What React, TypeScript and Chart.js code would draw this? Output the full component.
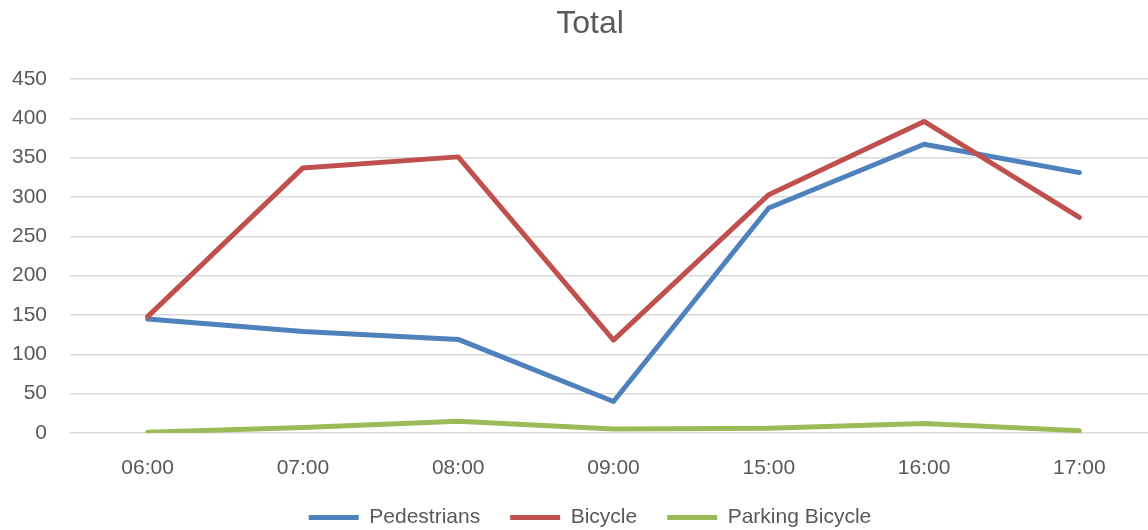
import React, { useEffect, useRef } from "react";
import { Chart, registerables } from "chart.js";

Chart.register(...registerables);

const categories = ["06:00", "07:00", "08:00", "09:00", "15:00", "16:00", "17:00"];
const pedestrians = [145, 129, 119, 40, 286, 367, 331];
const bicycle = [148, 337, 351, 118, 303, 396, 274];
const parkingBicycle = [1, 7, 15, 5, 6, 12, 3];

const FONT = "'Liberation Sans', Arial, sans-serif";
const TEXT = "#595959";

export default function App() {
  const ref = useRef<HTMLCanvasElement | null>(null);

  useEffect(() => {
    document.body.style.margin = "0";
    const ctx = ref.current!;
    const mk = (label: string, data: number[], color: string, order: number) => ({
      label,
      data,
      borderColor: color,
      backgroundColor: color,
      borderWidth: 5,
      pointRadius: 0,
      pointHoverRadius: 0,
      tension: 0,
      fill: false,
      borderCapStyle: "round" as const,
      borderJoinStyle: "round" as const,
      order,
    });
    const chart = new Chart(ctx, {
      type: "line",
      data: {
        labels: categories,
        datasets: [
          mk("Pedestrians", pedestrians, "#4F81BD", 3),
          mk("Bicycle", bicycle, "#C0504D", 2),
          mk("Parking Bicycle", parkingBicycle, "#9BBB59", 1),
        ],
      },
      options: {
        animation: false,
        responsive: true,
        maintainAspectRatio: false,
        layout: { padding: 0 },
        plugins: {
          title: {
            display: true,
            text: "Total",
            color: TEXT,
            font: { family: FONT, size: 32, weight: "normal" },
            padding: { top: 5, bottom: 35.6 },
          },
          legend: {
            position: "bottom",
            labels: {
              usePointStyle: true,
              pointStyle: "line",
              pointStyleWidth: 50,
              padding: 30,
              color: TEXT,
              font: { family: FONT, size: 21 },
              sort: (a: any, b: any) => a.datasetIndex - b.datasetIndex,
            },
          },
          tooltip: { enabled: false },
        },
        scales: {
          x: {
            offset: true,
            grid: { display: false },
            border: { display: false },
            ticks: {
              color: TEXT,
              font: { family: FONT, size: 21 },
              padding: 15,
              maxRotation: 0,
            },
            afterFit: (scale: any) => {
              scale.height = 44;
            },
          },
          y: {
            min: 0,
            max: 450,
            grid: { color: "#d9d9d9", lineWidth: 1.5, drawTicks: false },
            border: { display: false },
            ticks: {
              stepSize: 50,
              color: TEXT,
              font: { family: FONT, size: 21 },
              padding: 23,
            },
            afterFit: (scale: any) => {
              scale.width = 70;
            },
          },
          y2: {
            position: "right",
            display: true,
            grid: { display: false },
            border: { display: false },
            ticks: { display: false },
            afterFit: (scale: any) => {
              scale.width = 23;
            },
          },
        },
      },
    });
    return () => chart.destroy();
  }, []);

  return (
    <div style={{ width: 1148, height: 530, overflow: "hidden", position: "relative" }}>
      <div style={{ width: 1180, height: 538, position: "relative" }}>
        <canvas ref={ref} />
      </div>
    </div>
  );
}
